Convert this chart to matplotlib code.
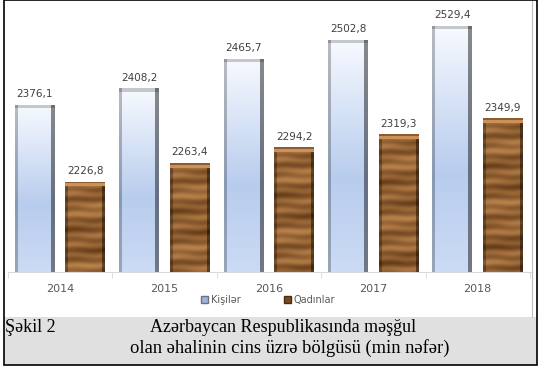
import numpy as np
import matplotlib
matplotlib.use("Agg")
import matplotlib.pyplot as plt
from matplotlib.patches import Rectangle, Patch

years = ["2014", "2015", "2016", "2017", "2018"]
men = [2376.1, 2408.2, 2465.7, 2502.8, 2529.4]
women = [2226.8, 2263.4, 2294.2, 2319.3, 2349.9]
series_names = ["Kişilər", "Qadınlar"]

W, H = 542, 369
fig = plt.figure(figsize=(W / 100, H / 100), dpi=100, facecolor="white")

def fx(px):
    return px / W

def fy(py):
    return (H - py) / H

ymin, ymax = 2052, 2570
ax = fig.add_axes([fx(8), fy(272), fx(524), (272 - 5) / H])
ax.set_xlim(-0.5, 4.52)
ax.set_ylim(ymin, ymax)
ax.set_facecolor("none")

x = np.arange(len(years))
bw = 0.383
off = 0.242


def men_img(hpx):
    n = max(int(hpx), 10)
    t = np.linspace(0, 1, n)[:, None]
    top = np.array([0.97, 0.98, 1.0])
    mid = np.array([0.72, 0.80, 0.93])
    bot = np.array([0.80, 0.86, 0.96])
    col = np.where(t < 0.6, top + (mid - top) * (t / 0.6), mid + (bot - mid) * ((t - 0.6) / 0.4))
    col = np.repeat(col[:, None, :], 40, axis=1)
    col[:, :3] = col[:, :3] * 0.75
    col[:, -4:] = col[:, -4:] * 0.55
    col[:4, :] = col[:4, :] * 0.8
    return np.clip(col, 0, 1)


def women_img(hpx):
    n = max(int(hpx), 10)
    r = np.arange(n)[:, None]
    c = np.arange(40)[None, :]
    dark = np.array([0.40, 0.24, 0.10])
    light = np.array([0.74, 0.52, 0.30])
    g = (0.5 + 0.22 * np.sin(r / 1.6 + 0.4 * np.sin(c / 6.0))
         + 0.18 * np.sin(r / 4.3 + c / 25.0) + 0.1 * np.sin(r / 11.0 - c / 40.0))
    g = np.clip(g, 0, 1)[:, :, None]
    col = dark + (light - dark) * g
    col[:, :3] = col[:, :3] * 0.7
    col[:, -3:] = col[:, -3:] * 0.55
    col[:5, :] = np.array([0.80, 0.57, 0.34])
    col[:2, :] = np.array([0.55, 0.36, 0.2])
    return np.clip(col, 0, 1)


def px_height(v):
    return ax.transData.transform((0, v))[1] - ax.transData.transform((0, ymin))[1]


for vals, pos, maker in [(men, x - off, men_img), (women, x + off, women_img)]:
    bars = ax.bar(pos, [v - ymin for v in vals], bw, bottom=ymin,
                  color="none", edgecolor="none", zorder=2)
    for b, v in zip(bars, vals):
        x0, w = b.get_x(), b.get_width()
        im = ax.imshow(maker(px_height(v)), extent=(x0, x0 + w, ymin, v),
                       aspect="auto", zorder=2, interpolation="bilinear")
        im.set_clip_path(b)
        ax.annotate(f"{v:.1f}".replace(".", ","), (x0 + w / 2, v),
                    xytext=(0, 4), textcoords="offset points",
                    ha="center", va="bottom", fontsize=7.5, color="#404040")

ax.set_xticks(x)
ax.set_xticklabels(years, fontsize=8, color="#595959")
ax.set_xticks(np.arange(-0.5, 5, 1), minor=True)
ax.tick_params(axis="x", which="major", length=0, pad=9)
ax.tick_params(axis="x", which="minor", length=4, color="#d9d9d9")
ax.set_yticks([])
for s in ["top", "left", "right"]:
    ax.spines[s].set_visible(False)
ax.spines["bottom"].set_color("#d9d9d9")

handles = [Patch(facecolor="#9fb4dc", edgecolor="#707080"),
           Patch(facecolor="#7a4a22", edgecolor="#4a2a10")]
fig.legend(handles, series_names, loc="center", bbox_to_anchor=(fx(268), fy(300)),
           ncol=2, frameon=False, fontsize=7, labelcolor="#595959",
           handlelength=0.7, handleheight=0.7, handletextpad=0.3, columnspacing=4.5)

# caption band and outer border
fig.patches.append(Rectangle((fx(4), fy(365)), fx(533), 48 / H, transform=fig.transFigure,
                             facecolor="#e0e0e0", edgecolor="none", zorder=0))
fig.patches.append(Rectangle((fx(4), fy(365)), fx(533), 365 / H - 0.5 / H, transform=fig.transFigure,
                             facecolor="none", edgecolor="black", linewidth=1.2, zorder=5))
fig.lines.append(plt.Line2D([fx(532), fx(532)], [fy(317), fy(1)], transform=fig.transFigure,
                            color="#c0c0c0", linewidth=0.8))

serif = "Liberation Serif"
fig.text(fx(5), fy(332), "Şəkil 2", family=serif, fontsize=13, va="baseline", ha="left")
fig.text(fx(150), fy(332), "Azərbaycan Respublikasında məşğul", family=serif, fontsize=13,
         va="baseline", ha="left")
fig.text(fx(130), fy(353), "olan əhalinin cins üzrə bölgüsü (min nəfər)", family=serif,
         fontsize=13.3, va="baseline", ha="left")

fig.savefig("out.png", dpi=100)
